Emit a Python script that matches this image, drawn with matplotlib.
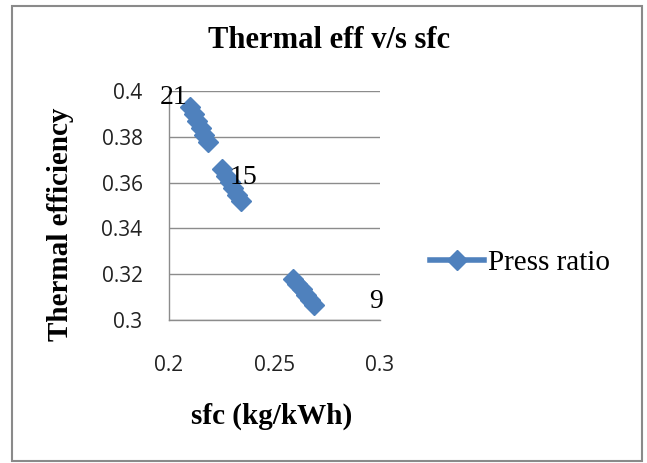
import numpy as np
import matplotlib.pyplot as plt
from matplotlib.patches import Rectangle

# -----------------------------
# Data (gaps between pressure-ratio groups)
# -----------------------------
sfc = [0.2100, 0.2117, 0.2134, 0.2151, 0.2168, 0.2185, np.nan,
       0.2251, 0.2269, 0.2287, 0.2305, 0.2323, 0.2341, np.nan,
       0.2588, 0.2608, 0.2628, 0.2648, 0.2668, 0.2687]
eff = [0.3930, 0.3899, 0.3868, 0.3838, 0.3807, 0.3777, np.nan,
       0.3659, 0.3631, 0.3603, 0.3576, 0.3548, 0.3520, np.nan,
       0.3179, 0.3156, 0.3134, 0.3111, 0.3089, 0.3066]
press_labels = ["21", "15", "9"]
label_idx = [0, 7, 19]
label_offsets = [(-16, 10), (22, -8), (62, 3)]

blue = "#4F81BD"
serif = "Liberation Serif"
W, H = 647, 463

fig = plt.figure(figsize=(6.47, 4.63), dpi=100)
ax = fig.add_axes([169 / W, 1 - 320 / H, 211 / W, 229 / H])

ax.plot(sfc, eff, color=blue, lw=4, marker="D", markersize=10,
        markeredgecolor=blue, label="Press ratio")

for lab, i, off in zip(press_labels, label_idx, label_offsets):
    ax.annotate(lab, (sfc[i], eff[i]), xytext=off, textcoords="offset pixels",
                ha="center", va="center", fontsize=20, family=serif)

ax.set_xlim(0.2, 0.3)
ax.set_ylim(0.3, 0.4)
ax.set_xticks([0.2, 0.25, 0.3])
ax.set_xticklabels(["0.2", "0.25", "0.3"])
ax.set_yticks([0.3, 0.32, 0.34, 0.36, 0.38, 0.4])
ax.set_yticklabels(["0.3", "0.32", "0.34", "0.36", "0.38", "0.4"])
ax.tick_params(length=0, labelsize=15)
ax.tick_params(axis="y", pad=19)
ax.tick_params(axis="x", pad=25)
for t in ax.get_xticklabels() + ax.get_yticklabels():
    t.set_family("Open Sans")
    t.set_color("#222222")

ax.grid(axis="y", color="#8c8c8c", lw=1)
ax.set_axisbelow(True)
for s in ["top", "right"]:
    ax.spines[s].set_visible(False)
for s in ["left", "bottom"]:
    ax.spines[s].set_color("#8c8c8c")
    ax.spines[s].set_linewidth(1)

fig.text(272 / W, 1 - 416 / H, "sfc (kg/kWh)", ha="center", va="center",
         fontsize=21, fontweight="bold", family=serif)
fig.text(61 / W, 1 - 224 / H, "Thermal efficiency", ha="center", va="center",
         rotation=90, fontsize=21, fontweight="bold", family=serif)
fig.text(329 / W, 1 - 41 / H, "Thermal eff v/s sfc", ha="center", va="center",
         fontsize=22, fontweight="bold", family=serif)

fig.legend(loc="center left", bbox_to_anchor=(430 / W, 1 - 263 / H), frameon=False,
           prop={"family": serif, "size": 21}, handlelength=1.85, handletextpad=0.15,
           borderaxespad=0, borderpad=0)

fig.patches.append(Rectangle((12 / W, 1 - 461 / H), 630 / W, 455 / H,
                             transform=fig.transFigure, fill=False,
                             edgecolor="#8a8a8a", lw=1.5))

fig.savefig("out.png", dpi=100)
